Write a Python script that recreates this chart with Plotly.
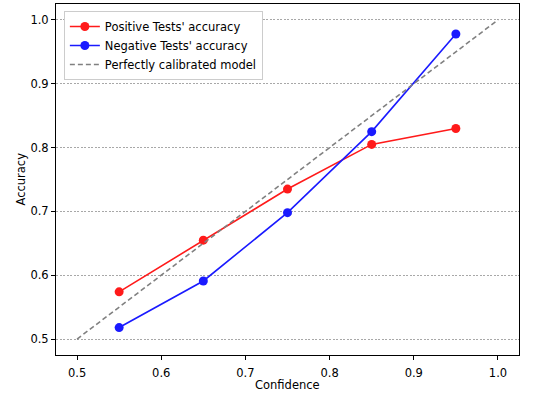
import plotly.graph_objects as go

confidence = [0.55, 0.65, 0.75, 0.85, 0.95]
positive_acc = [0.574, 0.655, 0.735, 0.805, 0.830]
negative_acc = [0.518, 0.591, 0.698, 0.825, 0.978]
diag_x = [0.5, 1.0]
diag_y = [0.5, 1.0]
ticks = [0.5, 0.6, 0.7, 0.8, 0.9, 1.0]

FONT = "DejaVu Sans"
FS = 11.5

fig = go.Figure()
fig.add_trace(go.Scatter(x=confidence, y=positive_acc, mode="lines+markers",
                         name="Positive Tests' accuracy",
                         line=dict(color="#ff1a1a", width=1.6),
                         marker=dict(color="#ff1a1a", size=9)))
fig.add_trace(go.Scatter(x=confidence, y=negative_acc, mode="lines+markers",
                         name="Negative Tests' accuracy",
                         line=dict(color="#1a1aff", width=1.6),
                         marker=dict(color="#1a1aff", size=9)))
fig.add_trace(go.Scatter(x=diag_x, y=diag_y, mode="lines",
                         name="Perfectly calibrated model",
                         line=dict(color="#808080", width=1.6, dash="5px,3px")))

axis_common = dict(showline=True, mirror=True, linecolor="black", linewidth=1,
                   ticks="outside", ticklen=4, tickcolor="black", tickwidth=1,
                   tickvals=ticks, tickformat=".1f", zeroline=False,
                   automargin=False,
                   tickfont=dict(family=FONT, size=FS, color="black"))

fig.update_xaxes(range=[0.475, 1.025], showgrid=False, ticklabelstandoff=3,
                 **axis_common)
fig.update_yaxes(range=[0.475, 1.025], showgrid=True, gridcolor="#a8a8a8",
                 gridwidth=0.7, griddash="2px,1.5px", **axis_common)

fig.add_annotation(text="Confidence", xref="paper", yref="paper",
                   x=0.5, y=0, yshift=-30, xanchor="center", yanchor="middle",
                   showarrow=False, font=dict(family=FONT, size=FS, color="black"))
fig.add_annotation(text="Accuracy", xref="paper", yref="paper",
                   x=0, y=0.5, xshift=-36, xanchor="center", yanchor="middle",
                   textangle=-90, showarrow=False,
                   font=dict(family=FONT, size=FS, color="black"))

fig.update_layout(
    width=546, height=396,
    margin=dict(l=56, r=27, t=4, b=41),
    plot_bgcolor="white", paper_bgcolor="white",
    font=dict(family=FONT, size=FS, color="black"),
    legend=dict(x=0.017, y=0.98, xanchor="left", yanchor="top",
                bgcolor="white", bordercolor="#cccccc", borderwidth=1,
                font=dict(family=FONT, size=FS), tracegroupgap=0, itemwidth=30),
    showlegend=True,
)

fig.write_html("out.html", config={"displayModeBar": False},
               post_script="document.body.style.margin='0';document.body.style.overflow='hidden';")
